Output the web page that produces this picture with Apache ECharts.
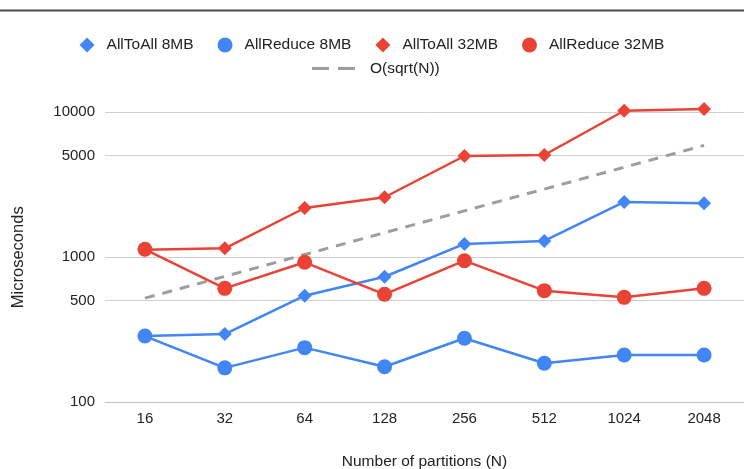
<!DOCTYPE html>
<html>
<head>
<meta charset="utf-8">
<script src="https://cdn.jsdelivr.net/npm/echarts@6/dist/echarts.min.js"></script>
<style>
  html, body { margin: 0; padding: 0; background: #fff; }
  #chart { width: 744px; height: 469px; }
</style>
</head>
<body>
<div id="chart"></div>
<script>
// Partition counts on the x axis
var partitions = ['16', '32', '64', '128', '256', '512', '1024', '2048'];

// Latency in microseconds per collective and message size
var allToAll8MB = [285, 294, 541, 731, 1230, 1290, 2395, 2346];
var allReduce8MB = [285, 172, 237, 175, 275, 185, 211, 211];
var allToAll32MB = [1120, 1148, 2177, 2582, 4970, 5050, 10200, 10490];
var allReduce32MB = [1130, 608, 919, 553, 943, 586, 527, 608];

// Reference O(sqrt(N)) trend line
var sqrtTrend = [520, 735, 1040, 1470, 2080, 2940, 4160, 5880];

// Labelled ticks on the logarithmic y axis
var yTicks = [100, 500, 1000, 5000, 10000];

var BLUE = '#4285F4';
var RED = '#EA4335';
var GREY = '#9e9e9e';
var FONT = '"Liberation Sans", Arial, sans-serif';
var TEXT = '#222';

var chart = echarts.init(document.getElementById('chart'));

function markerSeries(name, data, color, symbol, size) {
  return {
    name: name,
    type: 'line',
    data: data,
    symbol: symbol,
    symbolSize: size,
    showSymbol: true,
    lineStyle: { color: color, width: 2.5 },
    itemStyle: { color: color },
    emphasis: { disabled: true },
    z: 3
  };
}

chart.setOption({
  animation: false,
  textStyle: { fontFamily: FONT },
  graphic: [{
    type: 'line',
    shape: { x1: 0, y1: 10.5, x2: 744, y2: 10.5 },
    style: { stroke: '#4a4a4a', lineWidth: 2 },
    silent: true
  }],
  legend: [{
    top: 32,
    left: 'center',
    itemWidth: 15,
    itemHeight: 15,
    itemGap: 24,
    textStyle: { fontSize: 15.5, color: TEXT, fontFamily: FONT, padding: [0, 0, 0, 7] },
    data: [
      { name: 'AllToAll 8MB', icon: 'diamond' },
      { name: 'AllReduce 8MB', icon: 'circle' },
      { name: 'AllToAll 32MB', icon: 'diamond' },
      { name: 'AllReduce 32MB', icon: 'circle' }
    ]
  }, {
    top: 55.5,
    left: 307,
    itemWidth: 43,
    itemHeight: 15,
    textStyle: { fontSize: 15.5, color: TEXT, fontFamily: FONT, padding: [0, 0, 0, 10] },
    data: [{
      name: 'O(sqrt(N))',
      // two short dashes, like the dashed trend line
      icon: 'path://M0,0h17v3h-17z M26,0h17v3h-17z',
      itemStyle: { color: GREY }
    }]
  }],
  grid: {
    left: 105,
    right: 0,
    top: 100.5,
    bottom: 67,
    containLabel: false,
    outerBoundsMode: 'none'
  },
  xAxis: {
    type: 'category',
    data: partitions,
    boundaryGap: true,
    name: 'Number of partitions (N)',
    nameLocation: 'middle',
    nameGap: 52,
    nameTextStyle: { fontSize: 15.5, color: TEXT, fontFamily: FONT },
    axisLine: { show: true, lineStyle: { color: '#bdbdbd', width: 1 } },
    axisTick: { show: false },
    axisLabel: { fontSize: 15, color: TEXT, margin: 9, fontFamily: FONT },
    splitLine: { show: false }
  },
  yAxis: {
    type: 'log',
    logBase: 10,
    min: 100,
    max: 12000,
    name: 'Microseconds',
    nameLocation: 'middle',
    nameGap: 78,
    nameTextStyle: { fontSize: 16.5, color: TEXT, fontFamily: FONT, padding: [0, 12, 0, 0] },
    axisLine: { show: false },
    axisTick: { show: false, customValues: yTicks },
    axisLabel: {
      fontSize: 15,
      color: TEXT,
      margin: 10,
      fontFamily: FONT,
      customValues: yTicks,
      formatter: function (v) { return String(v); }
    },
    splitLine: { show: true, lineStyle: { color: '#cfcfcf', width: 1 } }
  },
  series: [
    markerSeries('AllToAll 8MB', allToAll8MB, BLUE, 'diamond', 14),
    markerSeries('AllReduce 8MB', allReduce8MB, BLUE, 'circle', 15),
    markerSeries('AllToAll 32MB', allToAll32MB, RED, 'diamond', 14),
    markerSeries('AllReduce 32MB', allReduce32MB, RED, 'circle', 15),
    {
      name: 'O(sqrt(N))',
      type: 'line',
      data: sqrtTrend,
      symbol: 'none',
      lineStyle: { color: GREY, width: 3, type: [10, 8] },
      itemStyle: { color: GREY },
      emphasis: { disabled: true },
      z: 2
    }
  ]
});
</script>
</body>
</html>
